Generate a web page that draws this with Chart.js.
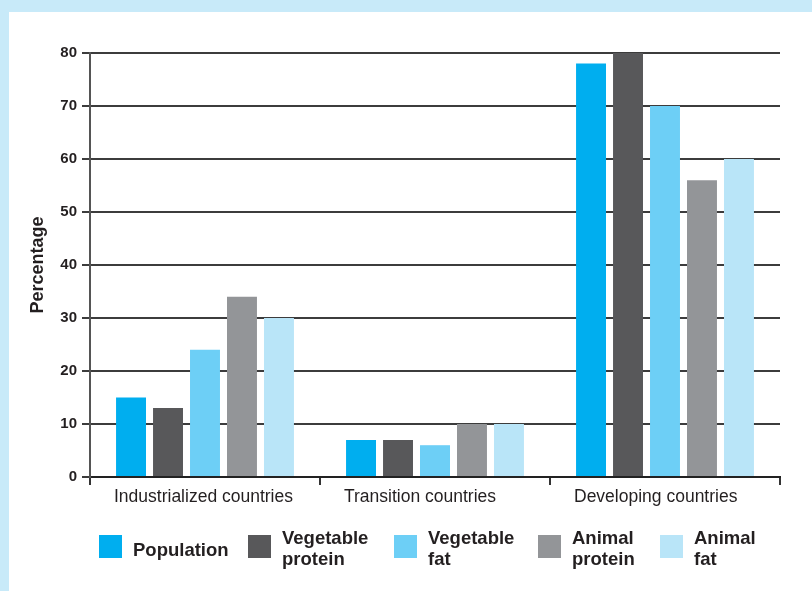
<!DOCTYPE html>
<html>
<head>
<meta charset="utf-8">
<script src="https://cdn.jsdelivr.net/npm/chart.js@4.4.1/dist/chart.umd.min.js"></script>
<style>
  html, body { margin: 0; padding: 0; }
  body { width: 812px; height: 591px; background: #c8eaf9; position: relative; overflow: hidden; }
  #panel { position: absolute; left: 9px; top: 12px; right: 0; bottom: 0; background: #fff; }
  #chart { position: absolute; left: 0; top: 0; }
</style>
</head>
<body>
<div id="panel"></div>
<canvas id="chart" width="812" height="591"></canvas>
<script>
const regions = ['Industrialized countries', 'Transition countries', 'Developing countries'];
const seriesNames = ['Population', 'Vegetable protein', 'Vegetable fat', 'Animal protein', 'Animal fat'];
const population = [15, 7, 78];
const vegetableProtein = [13, 7, 80];
const vegetableFat = [24, 6, 70];
const animalProtein = [34, 10, 56];
const animalFat = [30, 10, 60];
const yTicks = [0, 10, 20, 30, 40, 50, 60, 70, 80];

const seriesColors = ['#00aeef', '#58585a', '#6dcff6', '#939598', '#b9e5f8'];
const textColor = '#231f20';
const fontFamily = '"Liberation Sans", Arial, sans-serif';
const legendX = [99, 248, 394, 538, 660];

// legend with two-line labels, drawn under the axis
const splitLegend = {
  id: 'splitLegend',
  afterDraw(chart) {
    const ctx = chart.ctx;
    ctx.save();
    ctx.font = 'bold 18.5px ' + fontFamily;
    ctx.textBaseline = 'alphabetic';
    chart.data.datasets.forEach((ds, i) => {
      const x = legendX[i];
      ctx.fillStyle = ds.backgroundColor;
      ctx.fillRect(x, 535, 23, 23);
      const lines = ds.label.split(' ');
      const tx = x + 34;
      ctx.fillStyle = textColor;
      if (lines.length === 1) {
        ctx.fillText(lines[0], tx, 556);
      } else {
        ctx.fillText(lines[0], tx, 544);
        ctx.fillText(lines[1], tx, 565);
      }
    });
    ctx.restore();
  }
};

const values = [population, vegetableProtein, vegetableFat, animalProtein, animalFat];

new Chart(document.getElementById('chart'), {
  type: 'bar',
  data: {
    labels: regions,
    datasets: seriesNames.map((name, i) => ({
      label: name,
      data: values[i],
      backgroundColor: seriesColors[i],
      borderWidth: 0,
      categoryPercentage: 0.804,
      barPercentage: 0.81
    }))
  },
  options: {
    responsive: false,
    animation: false,
    layout: { padding: { top: 53, left: 0, right: 32, bottom: 84 } },
    plugins: {
      legend: { display: false },
      tooltip: { enabled: false }
    },
    scales: {
      x: {
        afterFit(scale) {
          scale.height = 30;
          scale.paddingLeft = 0;
          scale.paddingRight = 0;
        },
        grid: {
          offset: true,
          drawOnChartArea: false,
          drawTicks: true,
          tickLength: 8,
          color: '#333',
          lineWidth: 2
        },
        border: { display: true, color: '#222', width: 2 },
        ticks: {
          align: 'start',
          labelOffset: -91,
          padding: 2,
          color: textColor,
          font: { family: fontFamily, size: 17.5 }
        }
      },
      y: {
        min: 0,
        max: 80,
        afterFit(scale) { scale.width = 90; },
        afterBuildTicks(scale) { scale.ticks = yTicks.map(v => ({ value: v })); },
        grid: {
          color: '#3c3c3c',
          lineWidth: 2,
          tickLength: 8
        },
        border: { display: true, color: '#555', width: 2 },
        ticks: {
          padding: 5,
          color: textColor,
          font: { family: fontFamily, size: 15, weight: 'bold' }
        },
        title: {
          display: true,
          text: 'Percentage',
          color: textColor,
          padding: { top: 27, bottom: 0 },
          font: { family: fontFamily, size: 18, weight: 'bold' }
        }
      }
    }
  },
  plugins: [splitLegend]
});
</script>
</body>
</html>
